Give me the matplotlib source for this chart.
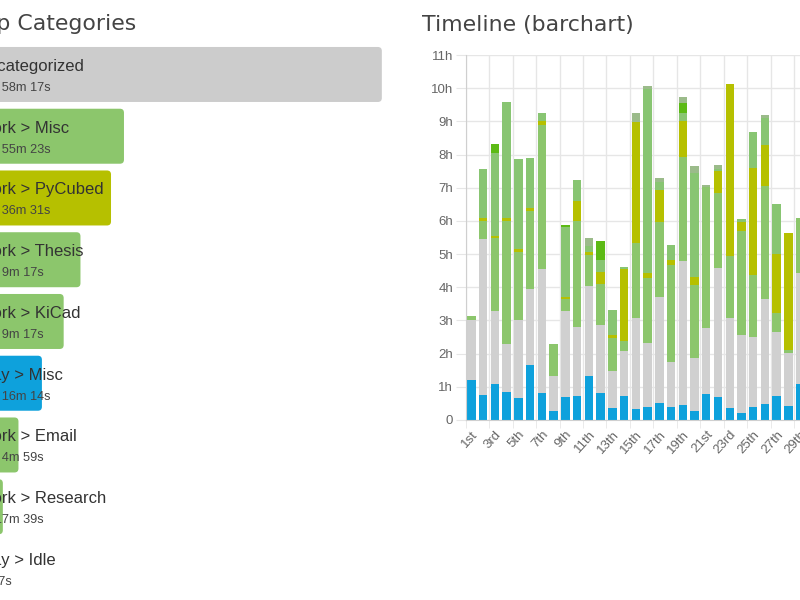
import matplotlib.pyplot as plt
import numpy as np
from matplotlib.patches import FancyBboxPatch

# ---- Top Categories (left panel) ----
top_names = ["Uncategorized", "Work > Misc", "Work > PyCubed", "Work > Thesis",
             "Work > KiCad", "Play > Misc", "Work > Email", "Work > Research",
             "Play > Idle"]
top_durations = [(74, 58, 17), (28, 55, 23), (26, 36, 31), (21, 9, 17),
                 (18, 9, 17), (14, 16, 14), (10, 4, 59), (7, 17, 39), (0, 2, 7)]
top_colors = ["#cccccc", "#8cc66c", "#b6c000", "#8cc66c", "#8cc66c",
              "#0ea1dc", "#8cc66c", "#8cc66c", "#0ea1dc"]

# ---- Timeline (right panel), hours per day, stacked bottom -> top ----
days = list(range(1, 30))
play_misc = [1.2, .75, 1.07, .85, .65, 1.67, .8, .27, .7, .73, 1.32, .8, .37, .72, .33,
             .38, .5, .4, .45, .28, .78, .68, .35, .22, .4, .47, .72, .43, 1.1]
uncategorized = [1.8, 4.7, 2.23, 1.45, 2.35, 2.28, 3.75, 1.05, 2.6, 2.07, 2.73, 2.06, 1.1,
                 1.36, 2.75, 1.95, 3.22, 1.36, 4.34, 1.58, 1.98, 3.89, 2.72, 2.34, 2.09,
                 3.18, 1.92, 1.58, 3.32]
work_misc = [.13, .55, 2.17, 3.7, 2.05, 2.35, 4.35, .98, .35, 3.2, .93, 1.23, 1.0, .3, 2.25,
             1.95, 2.26, 2.91, 3.15, 2.21, 4.25, 2.26, 1.88, 3.15, 1.88, 3.39, .58, .1, 1.68]
pycubed = [0, .1, .08, .1, .1, .1, .1, 0, .05, .6, .07, .38, .08, 2.17, 3.65,
           .15, .95, .15, 1.06, .25, 0, .68, 5.17, .27, 3.22, 1.25, 1.78, 3.52, 0]
thesis = [0, 1.47, 2.5, 3.48, 2.72, 1.51, .25, 0, 2.13, .62, .2, .35, .77, .05, 0,
          5.55, .25, .44, .25, 3.12, 0, .06, 0, .08, 1.1, .81, 1.5, 0, 0]
other = [0, 0, .28, 0, 0, 0, 0, 0, .05, 0, 0, .56, 0, 0, 0,
         0, 0, 0, .3, 0, 0, 0, 0, 0, 0, 0, 0, 0, 0]
research = [0, 0, 0, 0, 0, 0, 0, 0, 0, 0, .22, .02, 0, 0, .27,
            .1, .11, 0, .17, .2, .08, .1, 0, 0, 0, .1, 0, 0, 0]

stack = [play_misc, uncategorized, work_misc, pycubed, thesis, other, research]
stack_colors = ["#0ea1dc", "#d0d0d0", "#8cc66c", "#b6c000", "#88c572", "#5cba15", "#9bbb8a"]


def fmt_dur(d):
    h, m, s = d
    if h:
        return f"{h}h {m}m {s}s"
    return f"{m}m {s}s"


def ordinal(n):
    if 10 <= n % 100 <= 20:
        suf = "th"
    else:
        suf = {1: "st", 2: "nd", 3: "rd"}.get(n % 10, "th")
    return f"{n}{suf}"


fig = plt.figure(figsize=(8, 6), dpi=100)
W, H = 800, 600
px_per_hour = 5.6
row_px = 61.75

# left panel, partly outside the figure on the left
axl = fig.add_axes([-38 / W, 1 - (43.6 + 9 * row_px) / H, 440 / W, 9 * row_px / H])
axl.set_xlim(0, 440 / px_per_hour)
axl.set_ylim(8.5, -0.5)
axl.axis("off")
hours = [h + m / 60 + s / 3600 for h, m, s in top_durations]
bh = 55 / row_px
bars = axl.barh(range(len(top_names)), hours, height=bh, color=top_colors)
r = 4 / px_per_hour
for rect in bars:
    x, y = rect.get_x(), rect.get_y()
    w, hh = rect.get_width(), rect.get_height()
    if w > 0.05:
        p = FancyBboxPatch((x, y), w, hh,
                           boxstyle=f"round,pad=0,rounding_size={min(r, w / 2)}",
                           mutation_aspect=(1 / row_px) / (1 / px_per_hour),
                           facecolor=rect.get_facecolor(), edgecolor="none")
        axl.add_patch(p)
    rect.remove()
for i, (name, d) in enumerate(zip(top_names, top_durations)):
    axl.annotate(name, xy=(0, i), xytext=(15 * 0.72, 3.5 * 0.72), textcoords="offset points",
                 ha="left", va="baseline", fontsize=12, family="Liberation Sans", color="#333333")
    axl.annotate(fmt_dur(d), xy=(0, i), xytext=(15 * 0.72, -16.5 * 0.72),
                 textcoords="offset points", ha="left", va="baseline", fontsize=9.2,
                 family="Liberation Sans", color="#444444")

fig.text(-27 / W, 1 - 30.5 / H, "Top Categories", fontsize=15.8, color="#444444",
         va="baseline", family="DejaVu Sans")
fig.text(422 / W, 1 - 30.5 / H, "Timeline (barchart)", fontsize=15.8, color="#444444",
         va="baseline", family="DejaVu Sans")

# right panel, partly outside the figure on the right
day_px = 11.74
axr = fig.add_axes([465.6 / W, 1 - 420 / H, 31 * day_px / W, 365 / H])
bottom = np.zeros(len(days))
for vals, col in zip(stack, stack_colors):
    axr.bar(days, vals, bottom=bottom, width=0.72, color=col, linewidth=0, zorder=2)
    bottom += np.array(vals)
axr.set_xlim(0.5, 31.5)
axr.set_ylim(0, 11)
axr.set_yticks(range(12))
axr.set_yticklabels(["0"] + [f"{i}h" for i in range(1, 12)])
odd = list(range(1, 32, 2))
axr.set_xticks(odd)
axr.set_xticklabels([ordinal(d) for d in odd], rotation=48, ha="right", va="top",
                    rotation_mode="anchor")
axr.set_xticks(np.arange(0.5, 32, 2), minor=True)
axr.grid(True, which="minor", axis="x", color="#e6e6e6", linewidth=1, zorder=0)
axr.grid(True, which="major", axis="y", color="#e6e6e6", linewidth=1, zorder=0)
axr.set_axisbelow(True)
axr.tick_params(axis="x", which="major", length=0, pad=6, labelsize=9.5, labelcolor="#666666")
axr.tick_params(axis="x", which="minor", length=6, color="#e6e6e6")
axr.tick_params(axis="y", length=7, color="#e6e6e6", pad=2, labelsize=9.5, labelcolor="#666666")
for lab in axr.get_xticklabels() + axr.get_yticklabels():
    lab.set_family("Liberation Sans")
for side in ["top", "right"]:
    axr.spines[side].set_visible(False)
for side in ["left", "bottom"]:
    axr.spines[side].set_color("#cfcfcf")

fig.savefig("out.png", dpi=100, facecolor="white")
